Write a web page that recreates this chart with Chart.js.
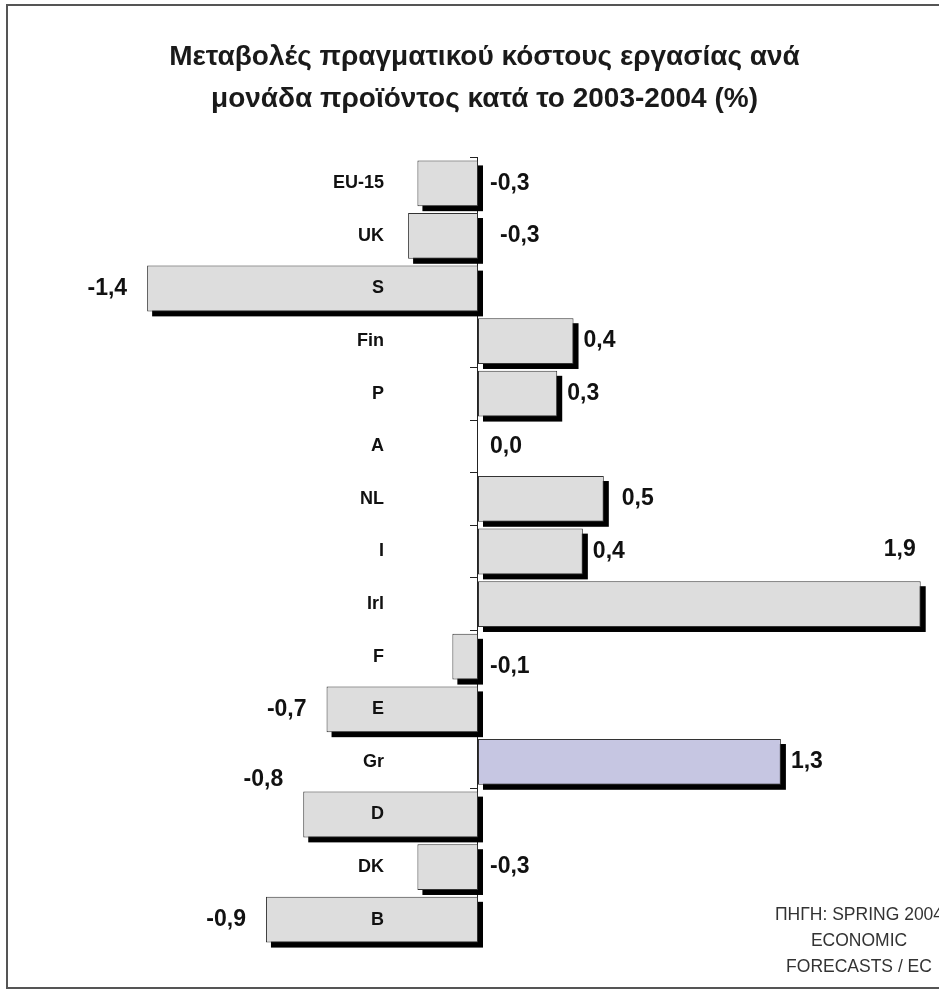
<!DOCTYPE html>
<html>
<head>
<meta charset="utf-8">
<script src="https://cdn.jsdelivr.net/npm/chart.js@4.4.1/dist/chart.umd.min.js"></script>
<style>
  html, body { margin: 0; padding: 0; background: #fff; overflow: hidden; }
  #wrap { position: relative; width: 939px; height: 990px; }
  #frame { position: absolute; left: 6px; top: 4px; width: 980px; height: 981px; border: 2px solid #555; pointer-events: none; }
  canvas { position: absolute; left: 0; top: 0; }
</style>
</head>
<body>
<div id="wrap">
  <canvas id="costChart" width="939" height="990"></canvas>
  <div id="frame"></div>
</div>
<script>
// data (bar lengths) and the printed labels
var countries = ['EU-15', 'UK', 'S', 'Fin', 'P', 'A', 'NL', 'I', 'Irl', 'F', 'E', 'Gr', 'D', 'DK', 'B'];
var barValues = [-0.26, -0.30, -1.42, 0.41, 0.34, 0.0, 0.54, 0.45, 1.90, -0.11, -0.65, 1.30, -0.75, -0.26, -0.91];
var valueLabels = ['-0,3', '-0,3', '-1,4', '0,4', '0,3', '0,0', '0,5', '0,4', '1,9', '-0,1', '-0,7', '1,3', '-0,8', '-0,3', '-0,9'];
var highlight = 'Gr';
var titleLines = ['Μεταβολές πραγματικού κόστους εργασίας ανά', 'μονάδα προϊόντος κατά το 2003-2004 (%)'];
var sourceLines = ['ΠΗΓΗ: SPRING 2004', 'ECONOMIC', 'FORECASTS / EC'];

var fontFamily = "'Liberation Sans', Arial, sans-serif";

var barColors = countries.map(function(c) {
    return c === highlight ? '#c6c6e2' : '#dddddd';
});

// small manual tweaks, like the hand-placed labels of the original
var labelNudge = { 'UK': [10, 0], 'NL': [8, 0], 'F': [0, 10], 'D': [0, -35] };

// black drop shadow behind each bar
var barShadow = {
    id: 'barShadow',
    beforeDatasetsDraw: function(chart) {
        var ctx = chart.ctx;
        var meta = chart.getDatasetMeta(0);
        ctx.save();
        ctx.fillStyle = '#000';
        meta.data.forEach(function(bar) {
            var p = bar.getProps(['x', 'y', 'base', 'height'], true);
            var left = Math.min(p.x, p.base);
            var w = Math.abs(p.x - p.base);
            if (w < 1) return;
            ctx.fillRect(left + 5, p.y - p.height / 2 + 5, w, p.height);
        });
        ctx.restore();
    }
};

// country names sit left of the zero line, on top of the bars
var countryLabels = {
    id: 'countryLabels',
    afterDatasetsDraw: function(chart) {
        var ctx = chart.ctx;
        var xs = chart.scales.x, ys = chart.scales.y;
        var x0 = xs.getPixelForValue(0);
        ctx.save();
        ctx.font = 'bold 18px ' + fontFamily;
        ctx.fillStyle = '#111';
        ctx.textAlign = 'right';
        ctx.textBaseline = 'middle';
        countries.forEach(function(c, i) {
            ctx.fillText(c, x0 - 94, ys.getPixelForValue(i));
        });
        ctx.restore();
    }
};

var valueTags = {
    id: 'valueTags',
    afterDatasetsDraw: function(chart) {
        var ctx = chart.ctx;
        var xs = chart.scales.x;
        var meta = chart.getDatasetMeta(0);
        var x0 = xs.getPixelForValue(0);
        ctx.save();
        ctx.font = 'bold 23px ' + fontFamily;
        ctx.fillStyle = '#111';
        ctx.textBaseline = 'middle';
        meta.data.forEach(function(bar, i) {
            var v = barValues[i];
            var c = countries[i];
            var p = bar.getProps(['x', 'y'], true);
            var x, y = p.y, align = 'left';
            if (c === 'Irl') {
                // no room on the right: printed above the bar end
                align = 'right';
                x = p.x - 5;
                y = p.y - 54;
            } else if (v > 0) {
                x = p.x + 10;
            } else if (v > -0.5) {
                x = x0 + 12;
            } else {
                align = 'right';
                x = p.x - 20;
            }
            if (labelNudge[c]) {
                x += labelNudge[c][0];
                y += labelNudge[c][1];
            }
            ctx.textAlign = align;
            ctx.fillText(valueLabels[i], x, y);
        });
        ctx.restore();
    }
};

var sourceNote = {
    id: 'sourceNote',
    afterDraw: function(chart) {
        var ctx = chart.ctx;
        ctx.save();
        ctx.font = '17.5px ' + fontFamily;
        ctx.fillStyle = '#333';
        ctx.textAlign = 'center';
        ctx.textBaseline = 'middle';
        sourceLines.forEach(function(line, i) {
            ctx.fillText(line, 859, 915 + i * 26);
        });
        ctx.restore();
    }
};

var ctx = document.getElementById('costChart').getContext('2d');
var costChart = new Chart(ctx, {
    type: 'bar',
    data: {
        labels: countries,
        datasets: [{
            data: barValues,
            backgroundColor: barColors,
            borderColor: '#333',
            borderWidth: 1,
            borderSkipped: false,
            barPercentage: 0.87,
            categoryPercentage: 1.0
        }]
    },
    plugins: [barShadow, countryLabels, valueTags, sourceNote],
    options: {
        indexAxis: 'y',
        responsive: false,
        animation: false,
        devicePixelRatio: 1,
        layout: {
            padding: { left: 30, right: 0, top: 0, bottom: 44 }
        },
        scales: {
            x: {
                display: false,
                min: -1.9227,
                max: 1.9785
            },
            y: {
                position: { x: 0 },
                offset: true,
                grid: {
                    drawOnChartArea: false,
                    offset: true,
                    tickLength: 7,
                    color: '#222'
                },
                border: { display: true, color: '#222', width: 1 },
                ticks: { display: false }
            }
        },
        plugins: {
            legend: { display: false },
            tooltip: { enabled: false },
            title: {
                display: true,
                text: titleLines,
                color: '#1a1a1a',
                font: { family: fontFamily, size: 28, weight: 'bold', lineHeight: 1.5 },
                padding: { top: 36, bottom: 37 }
            }
        }
    }
});
</script>
</body>
</html>
